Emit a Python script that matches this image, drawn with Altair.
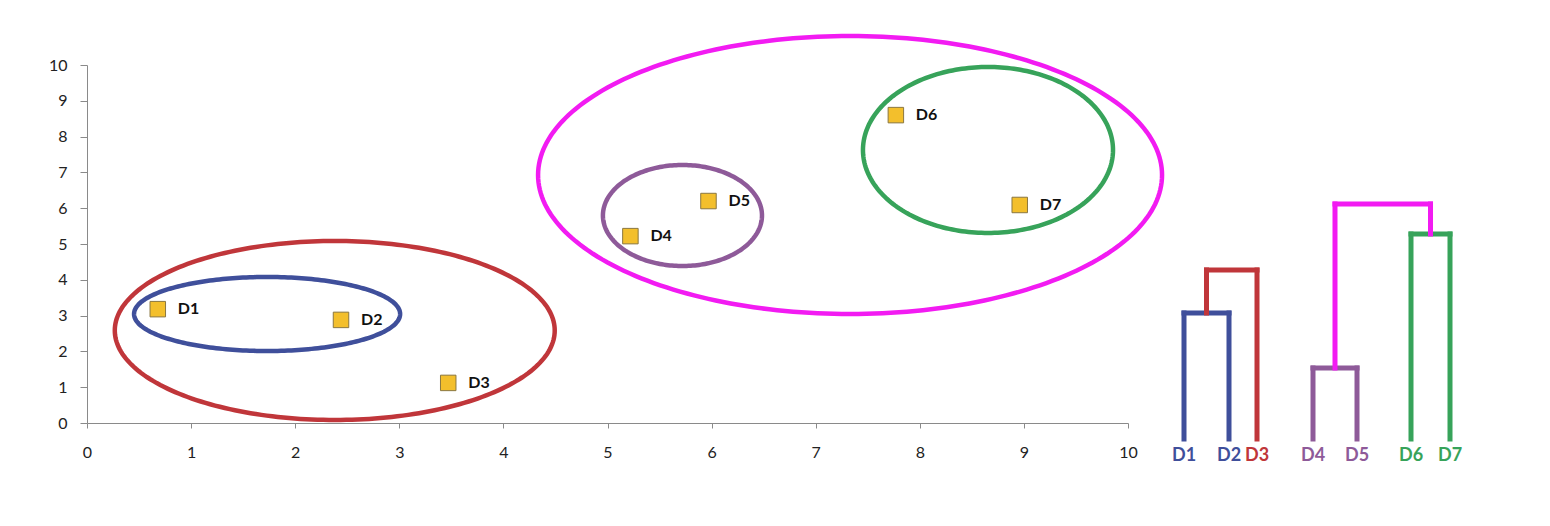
import altair as alt
import pandas as pd
import numpy as np

# ---------------- data ----------------
names = ["D1", "D2", "D3", "D4", "D5", "D6", "D7"]
xs = [0.68, 2.44, 3.47, 5.22, 5.97, 7.77, 8.96]
ys = [3.18, 2.88, 1.12, 5.22, 6.20, 8.60, 6.09]

BLUE, RED, PURPLE, GREEN, MAGENTA = "#3F4F9B", "#C0363A", "#8E5A99", "#37A35A", "#F21BF2"

# cluster ellipses (centre, radii in data units)
ell_names = ["blue", "red", "purple", "green", "magenta"]
ell_cx = [1.73, 2.38, 5.72, 8.655, 7.33]
ell_cy = [3.045, 2.584, 5.796, 7.626, 6.927]
ell_rx = [1.278, 2.113, 0.764, 1.201, 2.997]
ell_ry = [1.034, 2.50, 1.411, 2.318, 3.883]
ell_colors = [BLUE, RED, PURPLE, GREEN, MAGENTA]

# dendrogram
leaf_x = [0, 4.5, 7.3, 12.9, 17.3, 22.7, 26.6]
leaf_colors = [BLUE, BLUE, RED, PURPLE, PURPLE, GREEN, GREEN]
merge_name = ["D1D2", "D1D2D3", "D4D5", "D6D7", "D4D7"]
merge_left = ["D1", "D1D2", "D4", "D6", "D4D5"]
merge_right = ["D2", "D3", "D5", "D7", "D6D7"]
merge_height = [1.26, 1.69, 0.71, 2.05, 2.35]
merge_color = [BLUE, RED, PURPLE, GREEN, MAGENTA]

FONT = "Lato"

# ---------------- tables ----------------
pts = pd.DataFrame({"name": names, "x": xs, "y": ys})

angles = np.linspace(0, 2 * np.pi, 241)
rows = []
for n, cx, cy, rx, ry in zip(ell_names, ell_cx, ell_cy, ell_rx, ell_ry):
    for i, t in enumerate(angles):
        rows.append({"ell": n, "i": i, "x": cx + rx * np.cos(t), "y": cy + ry * np.sin(t)})
ell = pd.DataFrame(rows)

nodes = {n: (x, 0.0) for n, x in zip(names, leaf_x)}
segs = []
for mn, l, r, h, c in zip(merge_name, merge_left, merge_right, merge_height, merge_color):
    lx, lh = nodes[l]
    rx_, rh = nodes[r]
    segs.append({"x": lx, "x2": lx, "y": lh, "y2": h, "c": c})
    segs.append({"x": rx_, "x2": rx_, "y": rh, "y2": h, "c": c})
    segs.append({"x": lx, "x2": rx_, "y": h, "y2": h, "c": c})
    nodes[mn] = ((lx + rx_) / 2, h)
segdf = pd.DataFrame(segs)
leafdf = pd.DataFrame({"name": names, "x": leaf_x, "c": leaf_colors})

# ---------------- main scatter ----------------
xsc = alt.Scale(domain=[0, 10], nice=False, zero=False)
ysc = alt.Scale(domain=[0, 10], nice=False, zero=False)
ticks = list(range(0, 11))

xax = alt.Axis(values=ticks, title=None, grid=False, tickSize=5, labelPadding=16,
               domainColor="#8a8a8a", tickColor="#8a8a8a", labelColor="#222222",
               labelFont=FONT, labelFontSize=16, format="d", labelFlush=False,
               labelOverlap=False, tickCount=11)
yax = alt.Axis(values=ticks, title=None, grid=False, tickSize=7, labelPadding=13,
               domainColor="#8a8a8a", tickColor="#8a8a8a", labelColor="#222222",
               labelFont=FONT, labelFontSize=16, format="d", labelFlush=False,
               labelOverlap=False, tickCount=11)

X = alt.X("x:Q", scale=xsc, axis=xax)
Y = alt.Y("y:Q", scale=ysc, axis=yax)

ellipses = alt.Chart(ell).mark_line(strokeWidth=4.5, clip=False).encode(
    x=X, y=Y, order="i:Q",
    color=alt.Color("ell:N", scale=alt.Scale(domain=ell_names, range=ell_colors), legend=None),
)

squares = alt.Chart(pts).mark_square(size=240, color="#F3BF2C", stroke="#8A7740",
                                      strokeWidth=1, opacity=1, filled=True).encode(x=X, y=Y)

labels = alt.Chart(pts).mark_text(align="left", baseline="middle", dx=20, font=FONT,
                                   fontWeight="bold", fontSize=16, color="#111111").encode(
    x=X, y=Y, text="name:N")

main = alt.layer(ellipses, squares, labels).properties(width=1041, height=358)

# ---------------- dendrogram ----------------
dxs = alt.Scale(domain=[-3.4, 29.6], nice=False, zero=False)
dys = alt.Scale(domain=[0, 3.74], nice=False, zero=False)

links = alt.Chart(segdf).mark_rule(strokeWidth=5, strokeCap="square").encode(
    x=alt.X("x:Q", scale=dxs, axis=None), x2="x2:Q",
    y=alt.Y("y:Q", scale=dys, axis=None), y2="y2:Q",
    color=alt.Color("c:N", scale=None),
)
leaf_labels = alt.Chart(leafdf).mark_text(font=FONT, fontWeight="bold", fontSize=18,
                                           baseline="middle", align="center").encode(
    x=alt.X("x:Q", scale=dxs, axis=None),
    y=alt.value(391),
    text="name:N",
    color=alt.Color("c:N", scale=None),
)
dendro = alt.layer(links, leaf_labels).properties(width=330, height=374)

chart = alt.hconcat(main, dendro, spacing=22, bounds="flush").properties(
    padding={"left": 48, "top": 27, "right": 5, "bottom": 5}
).configure_view(stroke=None)

chart.save("out.html", embed_options={"renderer": "svg", "actions": False})
